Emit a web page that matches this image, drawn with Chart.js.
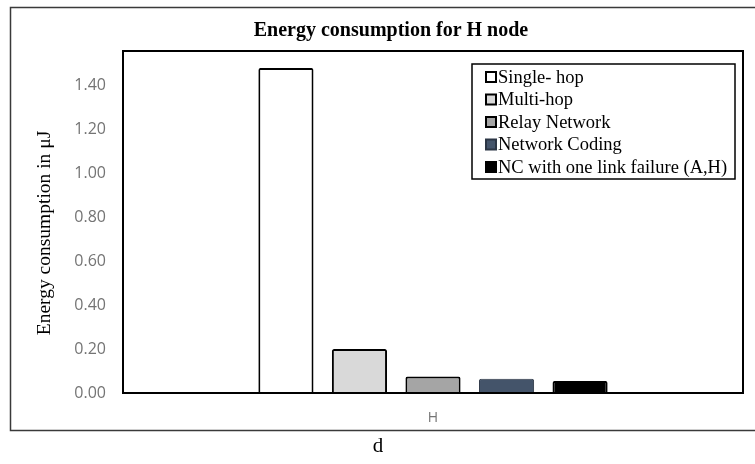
<!DOCTYPE html>
<html>
<head>
<meta charset="utf-8">
<script src="https://cdn.jsdelivr.net/npm/chart.js@4/dist/chart.umd.min.js"></script>
<style>
    body { margin: 0; background: #fff; }
    canvas { display: block; }
</style>
</head>
<body>
<canvas id="energyChart" width="755" height="464"></canvas>
<script>
// Data
const categories = ['H'];
const seriesNames = ['Single- hop', 'Multi-hop', 'Relay Network', 'Network Coding', 'NC with one link failure (A,H)'];
const singleHop = [1.478];
const multiHop = [0.20];
const relayNetwork = [0.075];
const networkCoding = [0.065];
const ncLinkFailure = [0.055];
const yTickValues = [0, 0.2, 0.4, 0.6, 0.8, 1.0, 1.2, 1.4];

const fills = ['#ffffff', '#d9d9d9', '#a5a5a5', '#44546a', '#000000'];
const edges = ['#000000', '#000000', '#000000', '#2b3544', '#000000'];
const series = [singleHop, multiHop, relayNetwork, networkCoding, ncLinkFailure];

const SERIF = '"Liberation Serif", "Times New Roman", serif';
const SANS = '"Open Sans", "Noto Sans", sans-serif';

// frame, titles and the boxed legend drawn like the Excel original
const decor = {
    id: 'decor',
    beforeDraw(chart) {
        const ctx = chart.ctx;
        ctx.save();
        ctx.fillStyle = '#fff';
        ctx.fillRect(0, 0, chart.width, chart.height);
        ctx.restore();
    },
    afterDraw(chart) {
        const ctx = chart.ctx;
        const a = chart.chartArea;
        ctx.save();
        // outer chart border
        ctx.strokeStyle = '#3a3a3a';
        ctx.lineWidth = 1.5;
        ctx.strokeRect(10.5, 7.5, 760, 423);
        // plot area border
        ctx.strokeStyle = '#000';
        ctx.lineWidth = 2;
        ctx.strokeRect(a.left, a.top, a.right - a.left, a.bottom - a.top);

        // chart title
        ctx.fillStyle = '#000';
        ctx.font = 'bold 20px ' + SERIF;
        ctx.textAlign = 'center';
        ctx.textBaseline = 'middle';
        ctx.fillText('Energy consumption for H node', 391, 31);

        // y axis title
        ctx.save();
        ctx.translate(45, 233);
        ctx.rotate(-Math.PI / 2);
        ctx.font = '19.5px ' + SERIF;
        ctx.fillText('Energy consumption in \u03bcJ', 0, 0);
        ctx.restore();

        // x axis title below the frame
        ctx.font = '21px ' + SERIF;
        ctx.fillText('d', 378, 446);

        // legend box
        ctx.strokeStyle = '#000';
        ctx.lineWidth = 1.5;
        ctx.strokeRect(472, 64, 263, 115);
        ctx.font = '18.5px ' + SERIF;
        ctx.textAlign = 'left';
        chart.data.datasets.forEach((ds, i) => {
            const y = 77 + i * 22.5;
            ctx.fillStyle = ds.backgroundColor;
            ctx.fillRect(486, y - 5, 10, 10);
            ctx.strokeStyle = ds.borderColor;
            ctx.lineWidth = 2;
            ctx.strokeRect(486, y - 5, 10, 10);
            ctx.fillStyle = '#000';
            ctx.fillText(ds.label, 498, y + 1);
        });
        ctx.restore();
    }
};

new Chart(document.getElementById('energyChart'), {
    type: 'bar',
    data: {
        labels: categories,
        datasets: series.map((values, i) => ({
            label: seriesNames[i],
            data: values,
            backgroundColor: fills[i],
            borderColor: edges[i],
            borderWidth: i === 3 ? 1 : 2,
            borderRadius: 2,
            borderSkipped: 'bottom'
        }))
    },
    options: {
        responsive: false,
        animation: false,
        layout: { padding: { left: 10, top: 51, right: 12, bottom: 41 } },
        plugins: { legend: { display: false }, title: { display: false }, tooltip: { enabled: false } },
        datasets: { bar: { categoryPercentage: 0.593, barPercentage: 0.75 } },
        scales: {
            x: {
                grid: { display: false, drawTicks: false },
                border: { display: false },
                ticks: { color: '#747474', font: { family: SANS, size: 14 }, padding: 17 },
                afterFit: s => { s.height = 30; }
            },
            y: {
                min: 0,
                max: 1.555,
                grid: { display: false, drawTicks: false },
                border: { display: false },
                afterBuildTicks: s => { s.ticks = yTickValues.map(v => ({ value: v })); },
                ticks: {
                    color: '#747474',
                    font: { family: SANS, size: 16 },
                    padding: 17,
                    callback: v => Number(v).toFixed(2)
                },
                afterFit: s => { s.width = 113; }
            }
        }
    },
    plugins: [decor]
});
</script>
</body>
</html>
